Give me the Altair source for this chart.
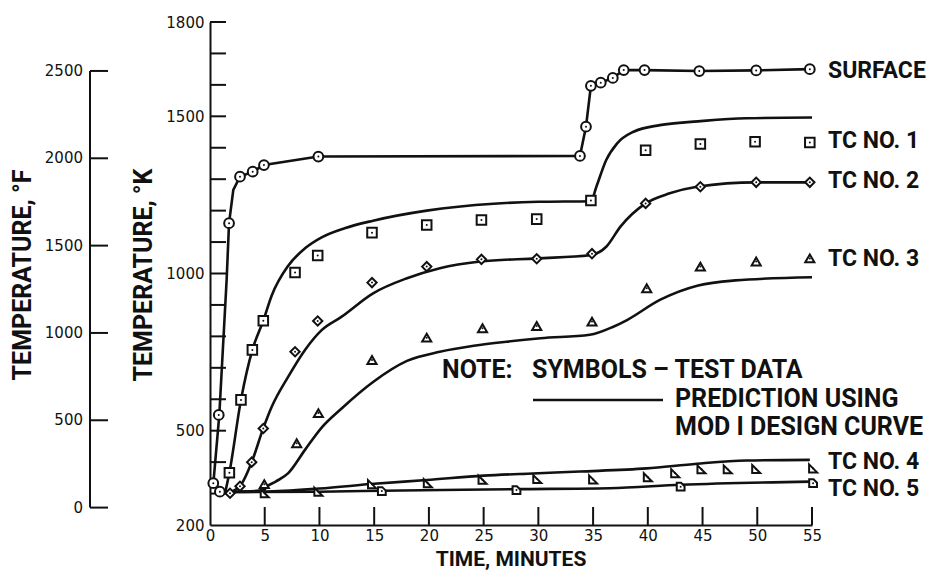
import altair as alt
import pandas as pd

# ---------------- data ----------------
series_names = ["SURFACE", "TC NO. 1", "TC NO. 2", "TC NO. 3", "TC NO. 4", "TC NO. 5"]

# test data (symbols)
surface_t = [0.3, 0.8, 0.9, 1.74, 2.74, 3.9, 4.93, 9.9, 33.8, 34.35, 34.8, 35.7, 36.8, 37.8, 39.7, 44.7, 49.9, 54.8]
surface_k = [333, 550, 306, 1160, 1308, 1324, 1345, 1372, 1374, 1467, 1597, 1607, 1622, 1647, 1647, 1644, 1646, 1650]
tc1_t = [1.77, 2.83, 3.87, 4.87, 7.77, 9.84, 14.8, 19.8, 24.8, 29.85, 34.8, 39.8, 44.8, 49.8, 54.8]
tc1_k = [366, 598, 757, 850, 1003, 1057, 1130, 1154, 1170, 1173, 1232, 1392, 1412, 1419, 1417]
tc2_t = [1.83, 2.74, 3.81, 4.87, 7.77, 9.84, 14.8, 19.8, 24.8, 29.85, 34.9, 39.8, 44.8, 49.9, 54.8]
tc2_k = [301, 323, 400, 507, 751, 849, 971, 1022, 1045, 1047, 1063, 1223, 1276, 1290, 1290]
tc3_t = [4.96, 7.92, 9.9, 14.8, 19.8, 24.9, 29.85, 34.9, 39.9, 44.8, 49.9, 54.8]
tc3_k = [330, 460, 556, 725, 796, 826, 833, 847, 953, 1022, 1038, 1048]
tc4_t = [5.0, 9.9, 14.8, 19.9, 24.9, 29.9, 35.0, 40.0, 42.5, 44.9, 47.3, 49.9, 55.1]
tc4_k = [301, 306, 330, 333, 344, 346, 345, 352, 365, 377, 377, 378, 380]
tc5_t = [15.7, 28.0, 43.0, 55.1]
tc5_k = [308, 311, 322, 333]

# prediction curves (Mod I design curve)
surface_line_t = [0.3, 0.85, 1.52, 1.74, 2.13, 2.74, 3.9, 4.93, 9.9, 33.8, 34.35, 34.8, 35.7, 36.8, 37.8, 39.7, 44.7, 49.9, 54.8]
surface_line_k = [330, 550, 980, 1160, 1266, 1308, 1324, 1345, 1372, 1374, 1467, 1597, 1607, 1622, 1647, 1647, 1644, 1646, 1650]
tc1_line_t = [1.4, 1.77, 2.83, 3.87, 4.87, 5.64, 7.15, 8.68, 10.2, 12.3, 14.9, 19.8, 25.9, 30.0, 34.8, 35.3, 36.2, 37.2, 38.7, 41.1, 44.6, 49.0, 55.0]
tc1_line_k = [305, 366, 598, 757, 850, 930, 1025, 1080, 1115, 1144, 1168, 1200, 1222, 1228, 1230, 1276, 1361, 1414, 1451, 1472, 1484, 1494, 1496]
tc2_line_t = [1.6, 2.74, 3.81, 4.87, 5.64, 7.15, 8.68, 10.2, 12.0, 14.9, 18.0, 21.0, 24.7, 29.85, 34.7, 36.2, 37.5, 39.8, 42.0, 44.5, 49.9, 55.0]
tc2_line_k = [302, 324, 400, 508, 576, 672, 757, 820, 862, 937, 985, 1017, 1038, 1048, 1058, 1085, 1149, 1223, 1255, 1276, 1290, 1290]
tc3_line_t = [1.5, 4.9, 5.2, 6.0, 7.15, 8.68, 10.2, 12.0, 14.9, 18.0, 21.0, 24.1, 27.1, 30.2, 34.7, 36.8, 38.1, 41.1, 44.6, 48.0, 55.0]
tc3_line_k = [305, 310, 322, 338, 365, 439, 510, 570, 655, 722, 751, 770, 783, 794, 805, 830, 852, 916, 962, 978, 988]
tc4_line_t = [1.5, 5.0, 10.0, 15.0, 19.8, 25.0, 29.5, 33.8, 39.9, 44.5, 49.0, 54.8]
tc4_line_k = [305, 306, 316, 331, 343, 357, 364, 370, 380, 395, 405, 407]
tc5_line_t = [1.5, 10.0, 15.7, 28.0, 36.5, 43.0, 54.8]
tc5_line_k = [305, 306, 309, 314, 317, 328, 338]

# label anchor temperatures (K) for the curve names at the right
label_k = [1645, 1422, 1295, 1046, 400, 315]
label_t = [55, 55, 55, 55, 55, 55]

# axis ticks
k_label_values = [200, 500, 1000, 1500, 1800]
k_minor_ticks = list(range(300, 1801, 100))
t_label_values = list(range(0, 56, 5))
t_ticks = list(range(5, 56, 5))
f_ticks = [0, 500, 1000, 1500, 2000, 2500]

# ---------------- tables ----------------
test_sets = [(surface_t, surface_k), (tc1_t, tc1_k), (tc2_t, tc2_k),
             (tc3_t, tc3_k), (tc4_t, tc4_k), (tc5_t, tc5_k)]
line_sets = [(surface_line_t, surface_line_k), (tc1_line_t, tc1_line_k), (tc2_line_t, tc2_line_k),
             (tc3_line_t, tc3_line_k), (tc4_line_t, tc4_line_k), (tc5_line_t, tc5_line_k)]

test_df = pd.concat([pd.DataFrame({"t": t, "K": k, "series": s})
                     for s, (t, k) in zip(series_names, test_sets)], ignore_index=True)
line_df = pd.concat([pd.DataFrame({"t": t, "K": k, "series": s, "order": range(len(t))})
                     for s, (t, k) in zip(series_names, line_sets)], ignore_index=True)
label_df = pd.DataFrame({"t": label_t, "K": label_k, "series": series_names})

# ---------------- styling ----------------
INK = "#111111"
COND = "Roboto, DejaVu Sans Condensed, sans-serif"
ROUND = "DejaVu Sans"

xscale = alt.Scale(domain=[0, 55], nice=False, zero=False)
yscale = alt.Scale(domain=[200, 1800], nice=False, zero=False)
xaxis = alt.Axis(values=t_label_values, format="d", ticks=False, tickSize=0, labelPadding=3, grid=False,
                 title=None, domainColor=INK, domainWidth=2, labelFont=ROUND, labelFontSize=15,
                 labelColor=INK, labelFlush=False)
yaxis = alt.Axis(values=k_label_values, format="d", ticks=False, tickSize=0, labelPadding=6, grid=False,
                 title=None, domainColor=INK, domainWidth=2, labelFont=ROUND, labelFontSize=15,
                 labelColor=INK, labelFlush=False)
X = alt.X("t:Q", scale=xscale, axis=xaxis)
Y = alt.Y("K:Q", scale=yscale, axis=yaxis)

tc4_path = "M-0.9,-0.9L0.9,0.9L-0.9,0.9Z"
tc5_path = "M-0.9,-0.9L0.1,-0.9L0.9,-0.1L0.9,0.9L-0.9,0.9Z"
shape_scale = alt.Scale(domain=series_names,
                        range=["circle", "square", "diamond", "triangle-up", tc4_path, tc5_path])
size_scale = alt.Scale(domain=series_names, range=[95, 75, 120, 80, 80, 80])

# ---------------- layers ----------------
surface_line = alt.Chart(line_df[line_df.series == "SURFACE"]).mark_line(
    color=INK, strokeWidth=2.6, interpolate="linear").encode(x=X, y=Y, detail="series:N", order="order:Q")
tc_lines = alt.Chart(line_df[line_df.series != "SURFACE"]).mark_line(
    color=INK, strokeWidth=2.6, interpolate="monotone").encode(x=X, y=Y, detail="series:N", order="order:Q")

symbols = alt.Chart(test_df).mark_point(filled=True, fill="white", stroke=INK, strokeWidth=2, opacity=1).encode(
    x=X, y=Y,
    shape=alt.Shape("series:N", scale=shape_scale, legend=None),
    size=alt.Size("series:N", scale=size_scale, legend=None),
)
dots = alt.Chart(test_df).mark_point(filled=True, color=INK, size=4, opacity=1).encode(x=X, y=Y)

labels = alt.Chart(label_df).mark_text(
    align="left", baseline="middle", dx=16, font=COND, fontWeight="bold", fontSize=23, color=INK
).encode(x=X, y=Y, text="series:N")

k_ticks = alt.Chart(pd.DataFrame({"K": k_minor_ticks})).mark_rule(color=INK, strokeWidth=2).encode(
    y=Y, x=alt.value(0), x2=alt.value(16))
x_ticks = alt.Chart(pd.DataFrame({"t": t_ticks})).mark_rule(color=INK, strokeWidth=2).encode(
    x=X, y=alt.value(503), y2=alt.value(485))

# Fahrenheit scale drawn through the Kelvin scale
f_df = pd.DataFrame({"F": f_ticks})
f_base = alt.Chart(f_df).transform_calculate(K="(datum.F + 459.67) * 5 / 9")
f_tick_rules = f_base.mark_rule(color=INK, strokeWidth=2).encode(y=Y, x=alt.value(-120), x2=alt.value(-102))
f_tick_labels = f_base.mark_text(align="right", baseline="middle", font=ROUND, fontSize=15, color=INK).encode(
    y=Y, x=alt.value(-127), text="F:Q")
f_dom = alt.Chart(pd.DataFrame({"F0": [min(f_ticks)], "F1": [max(f_ticks)]})).transform_calculate(
    K="(datum.F0 + 459.67) * 5 / 9", K2="(datum.F1 + 459.67) * 5 / 9"
).mark_rule(color=INK, strokeWidth=2).encode(y=Y, y2="K2:Q", x=alt.value(-120))

one = pd.DataFrame({"a": [0]})

def txt(s, x, y, angle=0, align="left", size=24, baseline="alphabetic"):
    return alt.Chart(one).mark_text(text=s, align=align, baseline=baseline, angle=angle,
                                    font=COND, fontWeight="bold", fontSize=size, color=INK).encode(
        x=alt.value(x), y=alt.value(y))

title_k = txt("TEMPERATURE, °K", -58, 253, angle=270, align="center", size=25)
title_f = txt("TEMPERATURE, °F", -179, 253, angle=270, align="center", size=25)
title_x = txt("TIME, MINUTES", 301, 548, align="center", size=21, baseline="bottom")
note1 = txt("NOTE:", 232, 356, size=25)
note2 = txt("SYMBOLS – TEST DATA", 322, 356, size=25)
note3 = txt("PREDICTION USING", 465, 385, size=25)
note4 = txt("MOD I DESIGN CURVE", 465, 413, size=25)
note_line = alt.Chart(one).mark_rule(color=INK, strokeWidth=2.6).encode(
    x=alt.value(323), x2=alt.value(453), y=alt.value(378))

chart = alt.layer(
    k_ticks, x_ticks, f_dom, f_tick_rules, f_tick_labels,
    surface_line, tc_lines, symbols, dots, labels,
    title_k, title_f, title_x, note1, note2, note3, note4, note_line,
).properties(
    width=602, height=503,
    autosize=alt.AutoSizeParams(type="none"),
    padding={"left": 202, "top": 14, "right": 115, "bottom": 46},
    background="white",
).configure_view(stroke=None)

chart.save("out.html", embed_options={"renderer": "svg", "actions": False})
